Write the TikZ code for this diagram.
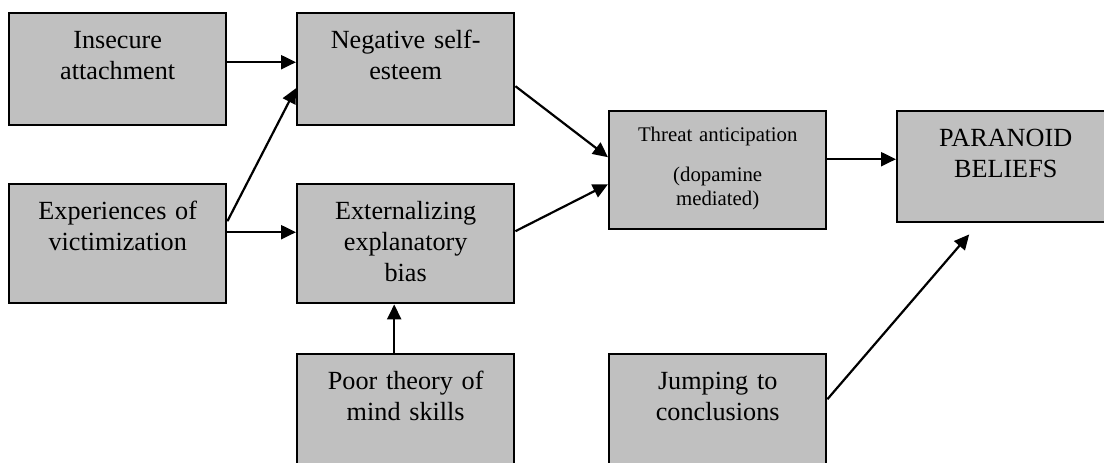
\documentclass[tikz,border=0pt]{standalone}
\usepackage{fontspec}
\setmainfont{Liberation Serif}
\usetikzlibrary{arrows.meta}
\definecolor{boxgray}{HTML}{C0C0C0}
\begin{document}
\begin{tikzpicture}[x=0.5pt, y=-0.5pt,
    box/.style={draw, fill=boxgray, line width=1.2pt, inner sep=0pt, anchor=north west,
        text width=108.5pt, align=center, text height=17.5pt,
        font=\fontsize{13.1}{15.5}\selectfont},
    link/.style={line width=1.1pt, -{Triangle[length=7.5pt, width=7pt]}}]
    \useasboundingbox (0,0) rectangle (1104,462);
    \clip (0,0) rectangle (1104,462);
    %Cột trái
    \node[box, text depth=38.5pt] (insecure) at (8,12) {Insecure\\attachment};
    \node[box, text depth=42pt] (victim) at (8,183) {Experiences of\\victimization};
    %Cột giữa
    \node[box, text depth=38.5pt] (selfest) at (296,12) {Negative self-\\esteem};
    \node[box, text depth=42pt] (extern) at (296,183) {Externalizing\\explanatory\\bias};
    \node[box, text depth=42.5pt] (theory) at (296,353) {Poor theory of\\mind skills};
    %Cột phải
    \node[box, text height=15pt, text depth=44pt,
        font=\fontsize{10.4}{12}\selectfont] (threat) at (608,110)
        {Threat anticipation\\[8pt](dopamine\\mediated)};
    \node[box, text depth=42.5pt] (jump) at (608,353) {Jumping to\\conclusions};
    \node[box, text depth=38pt] (paranoid) at (896,110) {PARANOID\\BELIEFS};
    \coordinate (jtip) at ([xshift=-18.25pt, yshift=-5.5pt]paranoid.south);
    %Mũi tên
    \draw[link] ([yshift=3.5pt]insecure.east) -- ([yshift=3.5pt]selfest.west);
    \draw[link] ([yshift=11.25pt]victim.east) -- ([yshift=-9.5pt]selfest.west);
    \draw[link] ([yshift=5.75pt]victim.east) -- ([yshift=5.75pt]extern.west);
    \draw[link] ([xshift=-5.75pt]theory.north) -- ([xshift=-5.75pt]extern.south);
    \draw[link] ([yshift=-8.5pt]selfest.east) -- ([yshift=6.5pt]threat.west);
    \draw[link] ([yshift=6.25pt]extern.east) -- ([yshift=-7pt]threat.west);
    \draw[link] ([yshift=5.5pt]threat.east) -- ([yshift=3.75pt]paranoid.west);
    \draw[link] ([yshift=7.5pt]jump.east) -- (jtip);
\end{tikzpicture}
\end{document}
